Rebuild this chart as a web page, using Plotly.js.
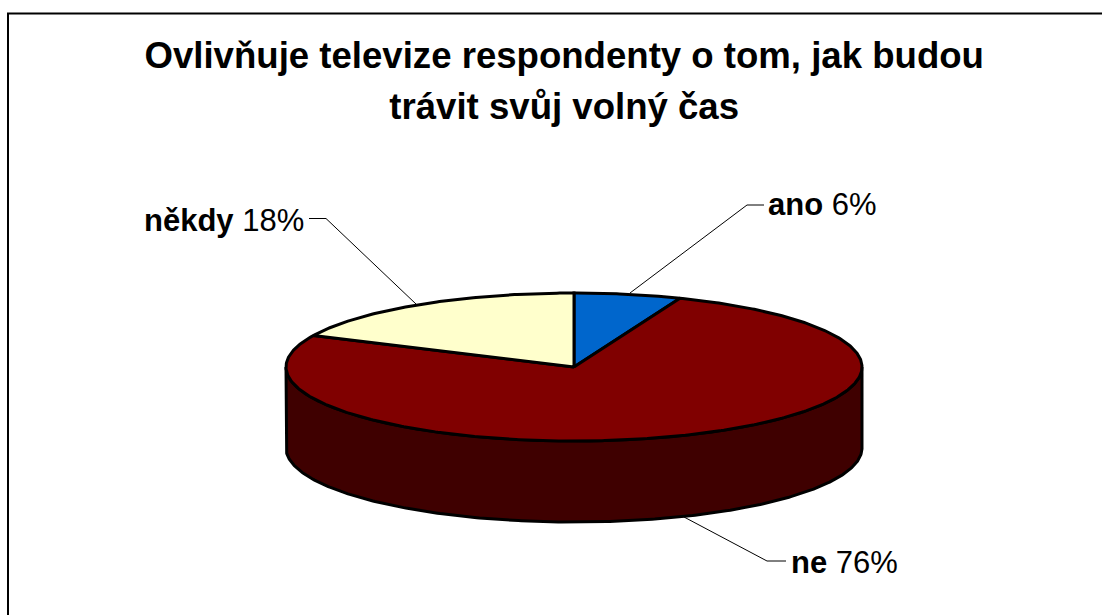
<!DOCTYPE html>
<html><head><meta charset="utf-8">
<script src="https://cdn.plot.ly/plotly-3.0.1.min.js"></script>
<style>html,body{margin:0;padding:0;background:#fff}</style></head>
<body><div id="chart" style="width:1102px;height:615px"></div>
<script>
const categories = ["ano", "ne", "někdy"];
const values = [6, 76, 18];
const colors = ["#0066cc", "#800000", "#ffffcc"];
const sideColors = ["#003366", "#3f0000", "#808066"];
const titleLines = ["Ovlivňuje televize respondenty o tom, jak budou", "trávit svůj volný čas"];

const cx = 574, cy = 367, rx = 288, ry = 74, depth = 81;
const total = values.reduce((a, b) => a + b, 0);
const px = t => cx + rx * Math.sin(t);
const py = t => cy - ry * Math.cos(t);
const traces = [];
const sample = (a, b) => {
  const n = Math.max(2, Math.ceil((b - a) / 0.01));
  return Array.from({length: n + 1}, (_, i) => a + (b - a) * i / n);
};
let start = 0;
const slices = values.map(v => {
  const s = {a: start, b: start + v / total * 2 * Math.PI};
  start = s.b;
  return s;
});
// side wall: only the front half of the rim is visible
slices.forEach((s, i) => {
  const a = Math.max(s.a, Math.PI / 2), b = Math.min(s.b, 1.5 * Math.PI);
  if (b <= a) return;
  const ts = sample(a, b);
  traces.push({type: "scatter", mode: "lines", fill: "toself", fillcolor: sideColors[i],
    x: ts.map(px).concat(ts.slice().reverse().map(px), [px(ts[0])]),
    y: ts.map(t => py(t)).concat(ts.slice().reverse().map(t => py(t) + depth), [py(ts[0])]),
    line: {color: "#000", width: 3}, hoverinfo: "skip", showlegend: false});
});
// top face
slices.forEach((s, i) => {
  const ts = sample(s.a, s.b);
  traces.push({type: "scatter", mode: "lines", fill: "toself", fillcolor: colors[i],
    x: [cx].concat(ts.map(px), [cx]),
    y: [cy].concat(ts.map(py), [cy]),
    line: {color: "#000", width: 3}, name: categories[i], showlegend: false,
    text: categories[i] + " " + values[i] + "%", hoverinfo: "text"});
});

const labelPos = [[766, 204, "left"], [789, 562, "left"], [306, 220, "right"]];
const annotations = categories.map((c, i) => ({
  xref: "x", yref: "y", x: labelPos[i][0], y: labelPos[i][1],
  xanchor: labelPos[i][2], yanchor: "middle", showarrow: false,
  text: "<b>" + c + "</b> " + values[i] + "%",
  font: {family: "Liberation Sans, Arial, sans-serif", size: 31, color: "#000"}
}));
const leader = pts => ({type: "path", xref: "x", yref: "y",
  path: pts.map((p, i) => (i ? "L" : "M") + p[0] + " " + p[1]).join(" "),
  line: {color: "#000", width: 1}});
const shapes = [
  leader([[764, 205], [747, 205], [630, 293]]),
  leader([[786, 561], [767, 561], [684, 517]]),
  leader([[309, 218.5], [326, 218.5], [416, 304]]),
  {type: "path", xref: "x", yref: "y", path: "M8 620 L8 13.5 L1110 13.5",
   line: {color: "#000", width: 2}}
];

Plotly.newPlot("chart", traces, {
  width: 1102, height: 615, margin: {l: 0, r: 0, t: 0, b: 0},
  paper_bgcolor: "#fff", plot_bgcolor: "#fff", showlegend: false,
  title: {text: titleLines.map(l => '<span style="font-size:36.6px">' + l + "</span>").join("<br>"),
    x: 0.512, xanchor: "center", y: 0.89, yanchor: "top",
    font: {family: "Liberation Sans, Arial, sans-serif", size: 39.5, color: "#000", weight: "bold"}},
  xaxis: {range: [0, 1102], visible: false, fixedrange: true},
  yaxis: {range: [615, 0], visible: false, fixedrange: true},
  shapes, annotations
}, {displayModeBar: false, responsive: false});
</script></body></html>
